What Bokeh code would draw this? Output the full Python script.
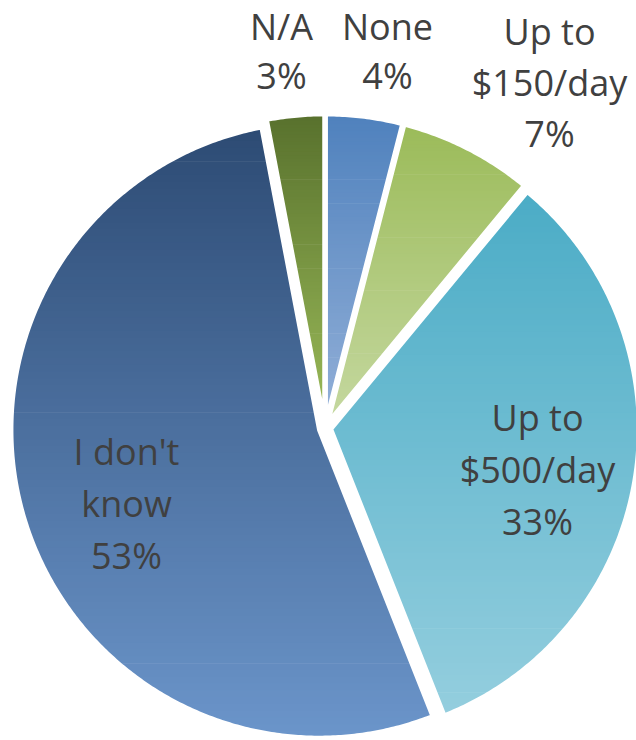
import math
from bokeh.plotting import figure
from bokeh.models import Range1d
from bokeh.core.properties import value
from bokeh.embed import file_html
from bokeh.resources import INLINE

# ---------------- data ----------------
categories = ["None", "Up to\n$150/day", "Up to\n$500/day", "I don't\nknow", "N/A"]
percents = [4, 7, 33, 53, 3]
top_colors = ["#4F81BD", "#9BBB59", "#4BACC6", "#2D4B74", "#58712D"]
bottom_colors = ["#93B0D8", "#C5D8A0", "#94CEDE", "#6B95CA", "#9BBB59"]

# ---------------- layout (reference pixel units, y measured downward) ----------------
CX, CY = 324.5, 427.7
R = 308.0
EXPLODE = 6.0
STROKE_PX = 4.4
BASELINE_FIX = -14.0
# first-line baseline anchor and line pitch of each label
label_anchor = [(387, 40), (549, 45), (537, 431), (126, 465), (281, 40)]
label_pitch = [49, 51, 52, 52, 49]

W, H = 636, 740


def hex2rgb(h):
    h = h.lstrip("#")
    return tuple(int(h[i:i + 2], 16) for i in (0, 2, 4))


def mix(c0, c1, t):
    a, b = hex2rgb(c0), hex2rgb(c1)
    return "#%02x%02x%02x" % tuple(int(round(a[k] + (b[k] - a[k]) * t)) for k in range(3))


def clip(poly, yc, keep_ge):
    out = []
    n = len(poly)
    for i in range(n):
        cur = poly[i]
        prev = poly[i - 1]
        cin = cur[1] >= yc if keep_ge else cur[1] <= yc
        pin = prev[1] >= yc if keep_ge else prev[1] <= yc
        if cin:
            if not pin:
                t = (yc - prev[1]) / (cur[1] - prev[1])
                out.append((prev[0] + t * (cur[0] - prev[0]), yc))
            out.append(cur)
        elif pin:
            t = (yc - prev[1]) / (cur[1] - prev[1])
            out.append((prev[0] + t * (cur[0] - prev[0]), yc))
    return out


p = figure(width=W, height=H, output_backend="svg", toolbar_location=None,
           x_range=Range1d(0, W), y_range=Range1d(-H, 0),
           x_axis_type=None, y_axis_type=None, min_border=0,
           background_fill_color="white", border_fill_color="white")
p.outline_line_color = None
p.grid.visible = False

total = float(sum(percents))
start = 0.0
band_xs, band_ys, band_cols = [], [], []
out_xs, out_ys = [], []
for i, pc in enumerate(percents):
    span = 360.0 * pc / total
    a0, a1 = start, start + span
    start = a1
    mid = math.radians((a0 + a1) / 2)
    ox = EXPLODE * math.sin(mid)
    oy = EXPLODE * math.cos(mid)  # upward positive (data y)
    cx, cy = CX + ox, -CY + oy
    poly = [(cx, cy)]
    nseg = max(4, int(span * 2))
    for k in range(nseg + 1):
        th = math.radians(a0 + span * k / nseg)
        poly.append((cx + R * math.sin(th), cy + R * math.cos(th)))
    ys = [q[1] for q in poly]
    ytop, ybot = max(ys), min(ys)
    nb = 90
    h = (ytop - ybot) / nb
    for b in range(nb):
        yt = ytop - b * h
        yb = yt - h - 0.6
        piece = clip(clip(poly, yt + 0.1, False), yb, True)
        if len(piece) < 3:
            continue
        band_xs.append([q[0] for q in piece])
        band_ys.append([q[1] for q in piece])
        band_cols.append(mix(top_colors[i], bottom_colors[i], (b + 0.5) / nb))
    out_xs.append([q[0] for q in poly])
    out_ys.append([q[1] for q in poly])

p.patches(xs=band_xs, ys=band_ys, fill_color=band_cols, line_color=None)
p.patches(xs=out_xs, ys=out_ys, fill_color=None, line_color="white",
          line_width=STROKE_PX, line_join="round")

tx, ty, tt = [], [], []
for i, cat in enumerate(categories):
    lines = cat.split("\n") + ["%d%%" % percents[i]]
    ax, ay = label_anchor[i]
    for j, ln in enumerate(lines):
        tx.append(ax)
        ty.append(-(ay + BASELINE_FIX + j * label_pitch[i]))
        tt.append(ln)

p.text(x=tx, y=ty, text=tt, text_align="center", text_baseline="alphabetic",
       text_font=value("Open Sans"), text_font_size="36px", text_color="#404040")

open("out.html", "w").write(file_html(p, INLINE))
